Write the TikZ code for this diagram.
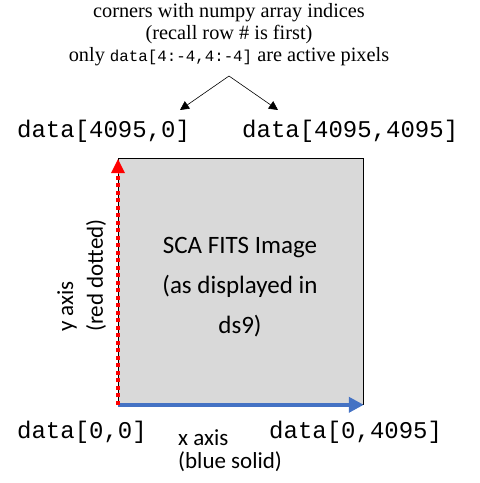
\documentclass[tikz,border=0pt]{standalone}
\usepackage{fontspec}
\setmainfont{Liberation Serif}
\newfontfamily\monof{Liberation Mono}
\newfontfamily\sansf{Carlito}
\usetikzlibrary{arrows.meta}
\definecolor{boxgray}{HTML}{D9D9D9}
\definecolor{axblue}{HTML}{4472C4}
\begin{document}
\begin{tikzpicture}[x=1pt,y=-1pt,
  toptext/.style={font=\fontsize{20.3}{22}\selectfont, align=center, inner sep=0},
  idx/.style={font=\monof\fontsize{24}{26}\selectfont, inner sep=0, anchor=west},
  big/.style={font=\sansf\fontsize{25}{40}\selectfont, align=center, inner sep=0},
  axlab/.style={font=\sansf\fontsize{23}{24}\selectfont, inner sep=0},
  thinarrow/.style={-{Triangle[length=9pt,width=9pt]}, line width=0.6pt}]
\useasboundingbox (0,0) rectangle (480,483);
\node[toptext] (t1) at (229,13) {corners with numpy array indices};
\node[toptext] (t2) at (229,35) {(recall row \# is first)};
\node[toptext] (t3) at (229,57) {only {\monof\fontsize{15.8}{18}\selectfont data[4:-4,4:-4]} are active pixels};
\coordinate (apex) at (229,76);
\coordinate (tl) at (180,110);
\coordinate (tr) at (278,110);
\draw[thinarrow] (apex) -- (tl);
\draw[thinarrow] (apex) -- (tr);
\node[idx] (c1) at (17,131) {data[4095,0]};
\node[idx] (c2) at (242,131) {data[4095,4095]};
\node[idx] (c3) at (17,432) {data[0,0]};
\node[idx] (c4) at (269,432) {data[0,4095]};
\node[draw=black, fill=boxgray, line width=0.8pt, minimum width=245pt, minimum height=246pt, anchor=north west, inner sep=0] (img) at (118,158) {};
\node[big] (title) at (240,287) {SCA FITS Image\\(as displayed in\\ds9)};
\draw[axblue, line width=4.5pt, -{Triangle[length=15pt,width=15pt]}] (img.south west) -- (img.south east);
\draw[red, line width=4pt, dash pattern=on 4pt off 3.5pt] (img.south west) -- ([yshift=-14pt]img.north west);
\draw[red, line width=0pt, -{Triangle[length=14pt,width=14pt]}] ([yshift=-14pt]img.north west) -- ([yshift=-1pt]img.north west);
\node[axlab, rotate=90, anchor=west] (ya) at (67,332) {y axis};
\node[axlab, rotate=90, anchor=west] (yb) at (96,332) {(red dotted)};
\node[axlab, anchor=west] (xa) at (178,438) {x axis};
\node[axlab, anchor=west] (xb) at (178,462) {(blue solid)};
\end{tikzpicture}
\end{document}
